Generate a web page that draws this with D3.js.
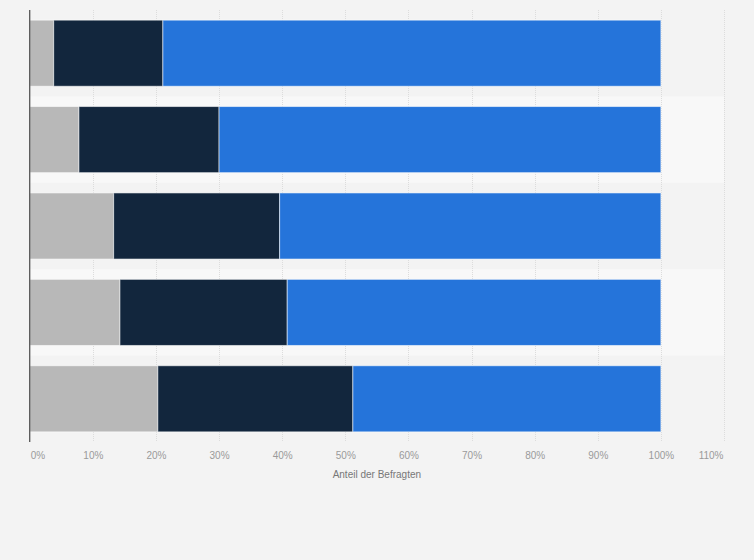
<!DOCTYPE html>
<html>
<head>
<meta charset="utf-8">
<script src="https://cdn.jsdelivr.net/npm/d3@7"></script>
<style>
  html, body { margin: 0; padding: 0; background: #f3f3f3; }
  svg { display: block; font-family: "Liberation Sans", Arial, sans-serif; }
</style>
</head>
<body>
<svg id="chart" width="754" height="560"></svg>
<script>
// Data
const categories = ["A", "B", "C", "D", "E"];
const seriesNames = ["Serie 1", "Serie 2", "Serie 3"];
const series1 = [3.8, 7.8, 13.3, 14.3, 20.3];
const series2 = [17.3, 22.2, 26.3, 26.5, 30.9];
const series3 = [78.9, 70.0, 60.4, 59.2, 48.8];
const tickValues = [0, 10, 20, 30, 40, 50, 60, 70, 80, 90, 100, 110];
const axisTitle = "Anteil der Befragten";

const colors = ["#b8b8b8", "#12263d", "#2574da"];

const svg = d3.select("#chart");
const W = 754, H = 560;
const margin = { left: 29.7, right: 30, top: 10, bottom: 118 };
const plotW = W - margin.left - margin.right;
const plotH = H - margin.top - margin.bottom;

const x = d3.scaleLinear().domain([0, 110]).range([margin.left, margin.left + plotW]);
const y = d3.scaleBand().domain(categories).range([margin.top, margin.top + plotH]).paddingInner(0.235).paddingOuter(0.1175);
const yb = d3.scaleBand().domain(categories).range([margin.top, margin.top + plotH]);

svg.append("rect").attr("width", W).attr("height", H).attr("fill", "#f3f3f3");

// alternating bands
svg.append("g").selectAll("rect")
  .data(categories.filter((d, i) => i % 2 === 1))
  .join("rect")
  .attr("x", x(0))
  .attr("width", x(110) - x(0))
  .attr("y", d => yb(d))
  .attr("height", yb.bandwidth())
  .attr("fill", "#f8f8f8");

// gridlines
svg.append("g").selectAll("line")
  .data(tickValues.filter(v => v > 0))
  .join("line")
  .attr("x1", d => Math.round(x(d)) + 0.5)
  .attr("x2", d => Math.round(x(d)) + 0.5)
  .attr("y1", margin.top)
  .attr("y2", margin.top + plotH)
  .attr("stroke", "#dcdcdc")
  .attr("stroke-width", 1)
  .attr("stroke-dasharray", "1,1");

// stacked bars
const rows = categories.map((c, i) => ({ cat: c, vals: [series1[i], series2[i], series3[i]] }));
const stackData = categories.map((c, i) => ({ cat: c, s0: series1[i], s1: series2[i], s2: series3[i] }));
const stack = d3.stack().keys(["s0", "s1", "s2"])(stackData);

svg.append("g").selectAll("g")
  .data(stack)
  .join("g")
  .attr("fill", (d, i) => colors[i])
  .selectAll("rect")
  .data(d => d)
  .join("rect")
  .attr("x", d => x(d[0]))
  .attr("width", d => x(d[1]) - x(d[0]))
  .attr("y", d => y(d.data.cat))
  .attr("height", y.bandwidth())
  .attr("stroke", "rgba(255,255,255,0.55)")
  .attr("stroke-width", 1);

// axis line (left)
svg.append("line")
  .attr("x1", margin.left).attr("x2", margin.left)
  .attr("y1", margin.top).attr("y2", margin.top + plotH)
  .attr("stroke", "#555")
  .attr("stroke-width", 1.3);

// x axis tick labels
const xAxis = d3.axisBottom(x).tickValues(tickValues).tickFormat(d => d + "%").tickSize(0).tickPadding(0);
const gx = svg.append("g").attr("transform", `translate(0, ${margin.top + plotH})`).call(xAxis);
gx.select(".domain").remove();
gx.selectAll("text")
  .attr("y", 17)
  .attr("dy", 0)
  .attr("fill", "#9a9a9a")
  .style("font-size", "10px")
  .style("font-family", "'Liberation Sans', Arial, sans-serif")
  .attr("text-anchor", d => d === 0 ? "start" : (d === 110 ? "end" : "middle"))
  .attr("dx", d => d === 0 ? 0.5 : (d === 110 ? -1 : 0));

// axis title
svg.append("text")
  .attr("x", (x(0) + x(110)) / 2)
  .attr("y", 478)
  .attr("text-anchor", "middle")
  .attr("fill", "#777")
  .style("font-size", "10px")
  .text(axisTitle);
</script>
</body>
</html>
